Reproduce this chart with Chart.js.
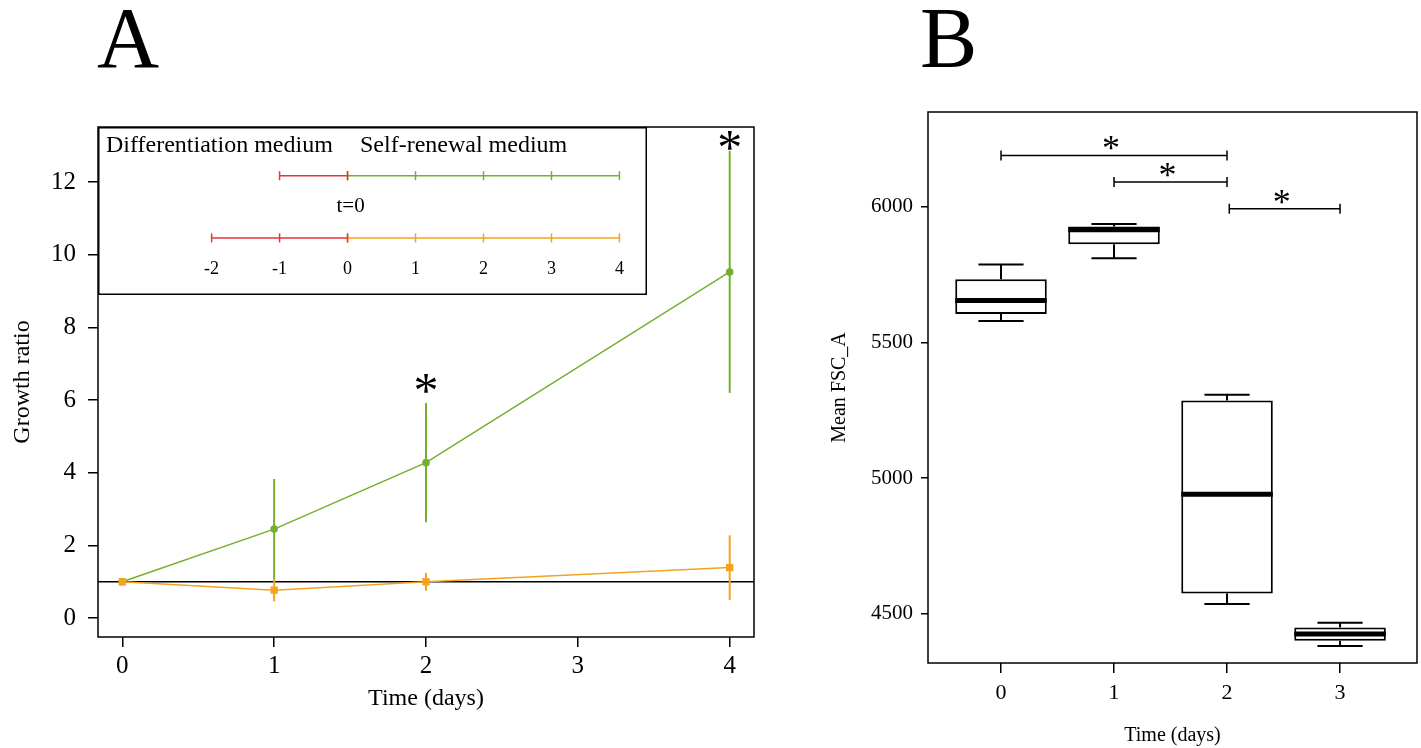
<!DOCTYPE html>
<html>
<head>
<meta charset="utf-8">
<script src="https://cdn.jsdelivr.net/npm/chart.js@4.4.1/dist/chart.umd.min.js"></script>
<style>
  body { margin: 0; background: #fff; width: 1421px; height: 748px; position: relative; overflow: hidden; font-family: 'Liberation Serif', serif; }
  canvas { position: absolute; }
  .panel-letter { position: absolute; font-size: 86px; line-height: 86px; color: #000; }
</style>
</head>
<body>
<div class="panel-letter" style="left:97px; top:-5px">A</div>
<div class="panel-letter" style="left:920px; top:-5px">B</div>
<canvas id="growth-chart" width="780" height="748" style="left:0;top:0"></canvas>
<canvas id="inset-chart" width="549" height="168" style="left:98px;top:127px;background:#fff"></canvas>
<canvas id="fsc-chart" width="641" height="748" style="left:780px;top:0"></canvas>
<script>
Chart.defaults.font.family = "'Liberation Serif', serif";
Chart.defaults.color = '#000';
Chart.defaults.animation = false;

const green = '#74b02c';
const orange = '#f5a21f';
const red = '#e8323c';

// panel A - growth ratio
const growthDays = [0, 1, 2, 4];
const selfRenewal = [1.0, 2.45, 4.28, 9.53];
const selfRenewalErr = [0, 1.38, 1.64, 3.33];
const differentiation = [1.0, 0.77, 1.0, 1.39];
const differentiationErr = [0, 0.31, 0.25, 0.89];
const growthTicksX = [0, 1, 2, 3, 4];
const growthTicksY = [0, 2, 4, 6, 8, 10, 12];
const baseline = 1;
const growthStars = [{ x: 2, y: 6.45 }, { x: 4, y: 13.15 }];

// inset timeline (days)
const insetTicks = [-2, -1, 0, 1, 2, 3, 4];
const topPre = [-1, 0];
const topPost = [0, 1, 2, 3, 4];
const bottomPre = [-2, -1, 0];
const bottomPost = [0, 1, 2, 3, 4];

// panel B - mean FSC_A box plots
const fscDays = [0, 1, 2, 3];
const fscMin = [5579, 5811, 4536, 4381];
const fscQ1 = [5605, 5862, 4574, 4400];
const fscMedian = [5655, 5916, 4940, 4425];
const fscQ3 = [5733, 5928, 5286, 4449];
const fscMax = [5788, 5937, 5307, 4466];
const fscTicksY = [4500, 5000, 5500, 6000];
const fscBrackets = [
  { from: 0, to: 2, y: 6190 },
  { from: 1, to: 2, y: 6092 },
  { from: 2.02, to: 3, y: 5993 }
];

const toPoints = (xs, ys) => xs.map((x, i) => ({ x: x, y: ys[i] }));

const framePlugin = {
  id: 'frame',
  afterDraw(chart) {
    const { ctx, chartArea: a } = chart;
    ctx.save();
    ctx.strokeStyle = '#000';
    ctx.lineWidth = 1.5;
    ctx.strokeRect(a.left, a.top, a.right - a.left, a.bottom - a.top);
    ctx.restore();
  }
};

const star = (ctx, x, y, size) => {
  ctx.font = size + "px 'Liberation Serif', serif";
  ctx.textAlign = 'center';
  ctx.textBaseline = 'middle';
  ctx.fillText('*', x, y + size * 0.21);
};

const growthExtras = {
  id: 'growthExtras',
  beforeDatasetsDraw(chart) {
    const { ctx, chartArea: a, scales: { x, y } } = chart;
    ctx.save();
    // reference line at ratio 1
    ctx.strokeStyle = '#000';
    ctx.lineWidth = 1.5;
    ctx.beginPath();
    ctx.moveTo(a.left, y.getPixelForValue(baseline));
    ctx.lineTo(a.right, y.getPixelForValue(baseline));
    ctx.stroke();
    // error bars, green first so orange sits on top
    [...chart.data.datasets].reverse().forEach((ds) => {
      ctx.strokeStyle = ds.borderColor;
      ctx.lineWidth = 2;
      ds.data.forEach((p, i) => {
        const e = ds.errors[i];
        if (!e) return;
        const px = x.getPixelForValue(p.x);
        ctx.beginPath();
        ctx.moveTo(px, y.getPixelForValue(p.y - e));
        ctx.lineTo(px, y.getPixelForValue(p.y + e));
        ctx.stroke();
      });
    });
    ctx.restore();
  },
  afterDraw(chart) {
    const { ctx, scales: { x, y } } = chart;
    ctx.save();
    ctx.fillStyle = '#000';
    growthStars.forEach((s) => star(ctx, x.getPixelForValue(s.x), y.getPixelForValue(s.y), 50));
    ctx.restore();
  }
};

// dataset 0 is drawn last (on top) in Chart.js
new Chart(document.getElementById('growth-chart'), {
  type: 'line',
  data: {
    datasets: [
      {
        label: 'Differentiation medium',
        data: toPoints(growthDays, differentiation),
        errors: differentiationErr,
        borderColor: orange,
        backgroundColor: orange,
        borderWidth: 1.5,
        pointStyle: 'rect',
        pointRadius: 5.2,
        pointBorderWidth: 0
      },
      {
        label: 'Self-renewal medium',
        data: toPoints(growthDays, selfRenewal),
        errors: selfRenewalErr,
        borderColor: green,
        backgroundColor: green,
        borderWidth: 1.5,
        pointStyle: 'circle',
        pointRadius: 3.8,
        pointBorderWidth: 0
      }
    ]
  },
  options: {
    responsive: false,
    layout: { padding: { top: 127, right: 26, left: 0, bottom: 0 } },
    plugins: { legend: { display: false }, tooltip: { enabled: false } },
    scales: {
      x: {
        type: 'linear',
        min: -0.16,
        max: 4.16,
        afterBuildTicks: (s) => { s.ticks = growthTicksX.map((v) => ({ value: v })); },
        afterFit: (s) => { s.height = 111; },
        border: { display: false },
        grid: { drawOnChartArea: false, tickLength: 10, color: '#000', lineWidth: 1.5 },
        ticks: { padding: 4, autoSkip: false, maxRotation: 0, font: { size: 25 }, callback: (v) => String(v) },
        title: { display: true, text: 'Time (days)', font: { size: 24 }, padding: { top: 0, bottom: 35 } }
      },
      y: {
        type: 'linear',
        min: -0.52,
        max: 13.52,
        afterBuildTicks: (s) => { s.ticks = growthTicksY.map((v) => ({ value: v })); },
        afterFit: (s) => { s.width = 98; },
        border: { display: false },
        grid: { drawOnChartArea: false, tickLength: 10, color: '#000', lineWidth: 1.5 },
        ticks: { padding: 12, autoSkip: false, font: { size: 25 }, callback: (v) => String(v) },
        title: { display: true, text: 'Growth ratio', font: { size: 24 }, padding: { top: 8, bottom: 0 } }
      }
    }
  },
  plugins: [growthExtras, framePlugin]
});

// inset: timeline of media
const insetText = {
  id: 'insetText',
  afterDraw(chart) {
    const { ctx, width, height, scales: { x } } = chart;
    ctx.save();
    ctx.fillStyle = '#000';
    ctx.textBaseline = 'middle';
    ctx.font = "24px 'Liberation Serif', serif";
    ctx.textAlign = 'left';
    ctx.fillText('Differentiation medium', 8, 19);
    ctx.fillText('Self-renewal medium', 262, 19);
    ctx.font = "21px 'Liberation Serif', serif";
    ctx.textAlign = 'center';
    ctx.fillText('t=0', x.getPixelForValue(0) + 3, 79);
    ctx.font = "18px 'Liberation Serif', serif";
    insetTicks.forEach((d) => ctx.fillText(String(d), x.getPixelForValue(d), 142));
    ctx.strokeStyle = '#000';
    ctx.lineWidth = 1.5;
    ctx.strokeRect(0.75, 0.75, width - 1.5, height - 1.5);
    ctx.restore();
  }
};

const timeline = (days, level, color) => ({
  data: days.map((d) => ({ x: d, y: level })),
  borderColor: color,
  backgroundColor: color,
  borderWidth: 1.5,
  pointStyle: 'line',
  rotation: 90,
  pointRadius: 4.5,
  pointBorderWidth: 1.5,
  pointBorderColor: color
});

new Chart(document.getElementById('inset-chart'), {
  type: 'line',
  data: {
    datasets: [
      timeline(topPre, 2, red),
      timeline(bottomPre, 1, red),
      timeline(topPost, 2, green),
      timeline(bottomPost, 1, orange)
    ]
  },
  options: {
    responsive: false,
    layout: { padding: 0 },
    plugins: { legend: { display: false }, tooltip: { enabled: false } },
    scales: {
      x: { type: 'linear', display: false, min: -3.583, max: 4.317 },
      y: { type: 'linear', display: false, min: 0.179, max: 2.687 }
    }
  },
  plugins: [insetText]
});

// panel B
const boxWhiskers = {
  id: 'boxWhiskers',
  afterDatasetsDraw(chart) {
    const { ctx, scales: { x, y } } = chart;
    const bars = chart.getDatasetMeta(0).data;
    ctx.save();
    ctx.strokeStyle = '#000';
    fscDays.forEach((d, i) => {
      const cx = x.getPixelForValue(d);
      const capHalf = x.getPixelForValue(d + 0.2) - cx;
      const half = bars[i].width / 2;
      ctx.lineWidth = 2;
      ctx.beginPath();
      ctx.moveTo(cx, y.getPixelForValue(fscQ3[i]));
      ctx.lineTo(cx, y.getPixelForValue(fscMax[i]));
      ctx.moveTo(cx, y.getPixelForValue(fscQ1[i]));
      ctx.lineTo(cx, y.getPixelForValue(fscMin[i]));
      ctx.moveTo(cx - capHalf, y.getPixelForValue(fscMax[i]));
      ctx.lineTo(cx + capHalf, y.getPixelForValue(fscMax[i]));
      ctx.moveTo(cx - capHalf, y.getPixelForValue(fscMin[i]));
      ctx.lineTo(cx + capHalf, y.getPixelForValue(fscMin[i]));
      ctx.stroke();
      ctx.lineWidth = 5;
      ctx.beginPath();
      ctx.moveTo(cx - half, y.getPixelForValue(fscMedian[i]));
      ctx.lineTo(cx + half, y.getPixelForValue(fscMedian[i]));
      ctx.stroke();
    });
    // significance brackets
    ctx.lineWidth = 1.5;
    ctx.fillStyle = '#000';
    fscBrackets.forEach((b) => {
      const x1 = x.getPixelForValue(b.from);
      const x2 = x.getPixelForValue(b.to);
      const by = y.getPixelForValue(b.y);
      ctx.beginPath();
      ctx.moveTo(x1, by); ctx.lineTo(x2, by);
      ctx.moveTo(x1, by - 5); ctx.lineTo(x1, by + 5);
      ctx.moveTo(x2, by - 5); ctx.lineTo(x2, by + 5);
      ctx.stroke();
      star(ctx, (x1 + x2) / 2 - 3, by - 12, 36);
    });
    ctx.restore();
  }
};

new Chart(document.getElementById('fsc-chart'), {
  type: 'bar',
  data: {
    datasets: [
      {
        label: 'Mean FSC_A',
        data: fscDays.map((d, i) => ({ x: d, y: [fscQ1[i], fscQ3[i]] })),
        backgroundColor: '#fff',
        borderColor: '#000',
        borderWidth: 2,
        borderSkipped: false,
        barPercentage: 1,
        categoryPercentage: 0.81
      }
    ]
  },
  options: {
    responsive: false,
    layout: { padding: { top: 112, right: 4, left: 0, bottom: 0 } },
    plugins: { legend: { display: false }, tooltip: { enabled: false } },
    scales: {
      x: {
        type: 'linear',
        min: -0.646,
        max: 3.681,
        offset: false,
        afterBuildTicks: (s) => { s.ticks = fscDays.map((v) => ({ value: v })); },
        afterFit: (s) => { s.height = 85; },
        border: { display: false },
        grid: { drawOnChartArea: false, offset: false, tickLength: 10, color: '#000', lineWidth: 1.5 },
        ticks: { padding: 7, autoSkip: false, maxRotation: 0, font: { size: 22 }, callback: (v) => String(v) },
        title: { display: true, text: 'Time (days)', font: { size: 20 }, padding: { top: 0, bottom: 0 } }
      },
      y: {
        type: 'linear',
        min: 4318,
        max: 6350,
        afterBuildTicks: (s) => { s.ticks = fscTicksY.map((v) => ({ value: v })); },
        afterFit: (s) => { s.width = 148; },
        border: { display: false },
        grid: { drawOnChartArea: false, tickLength: 7, color: '#000', lineWidth: 1.5 },
        ticks: { padding: 8, autoSkip: false, font: { size: 21 }, callback: (v) => String(v) },
        title: { display: true, text: 'Mean FSC_A', font: { size: 20 }, padding: { top: 48, bottom: 0 } }
      }
    }
  },
  plugins: [boxWhiskers, framePlugin]
});
</script>
</body>
</html>
